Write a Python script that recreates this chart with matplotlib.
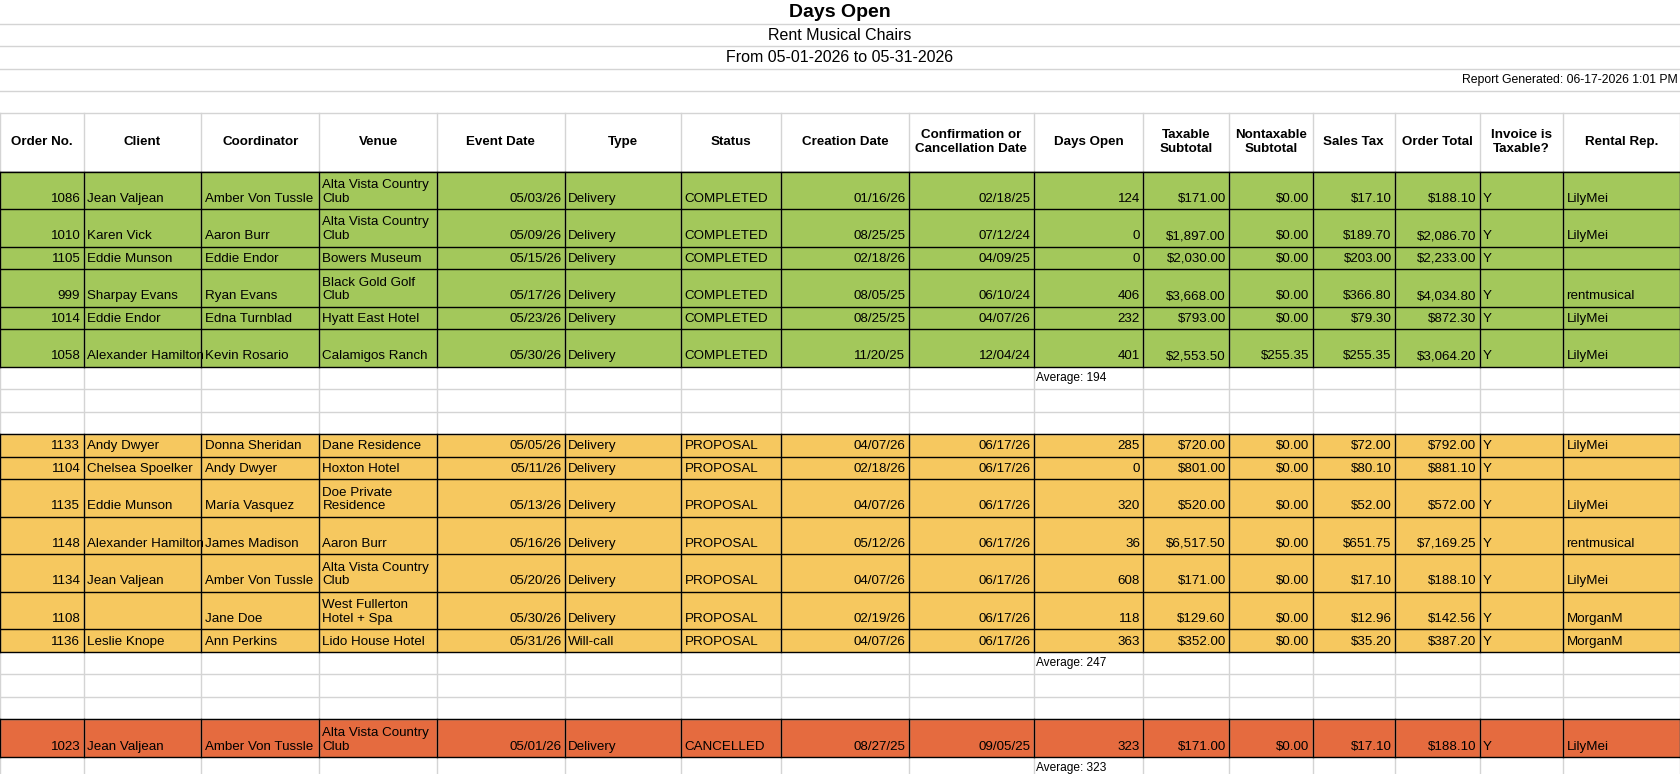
import matplotlib
matplotlib.use("Agg")
import matplotlib.pyplot as plt

W, H = 1568, 722
plt.rcParams['font.family'] = ['Liberation Sans', 'DejaVu Sans']

title = "Days Open"
subtitle1 = "Rent Musical Chairs"
subtitle2 = "From 05-01-2026 to 05-31-2026"
generated = "Report Generated: 06-17-2026 1:01 PM"

headers = ["Order No.", "Client", "Coordinator", "Venue", "Event Date", "Type", "Status",
           "Creation Date", "Confirmation or\nCancellation Date", "Days Open", "Taxable\nSubtotal",
           "Nontaxable\nSubtotal", "Sales Tax", "Order Total", "Invoice is\nTaxable?", "Rental Rep."]
aligns = ['r', 'l', 'l', 'l', 'r', 'l', 'l', 'r', 'r', 'r', 'r', 'r', 'r', 'r', 'l', 'l']
col_edges = [0, 78, 188, 298, 408, 527, 636, 729, 848, 965, 1067, 1147, 1225, 1302, 1381, 1459, 1568]

completed = [
    ["1086", "Jean Valjean", "Amber Von Tussle", "Alta Vista Country\nClub", "05/03/26", "Delivery", "COMPLETED", "01/16/26", "02/18/25", "124", "$171.00", "$0.00", "$17.10", "$188.10", "Y", "LilyMei"],
    ["1010", "Karen Vick", "Aaron Burr", "Alta Vista Country\nClub", "05/09/26", "Delivery", "COMPLETED", "08/25/25", "07/12/24", "0", "$1,897.00", "$0.00", "$189.70", "$2,086.70", "Y", "LilyMei"],
    ["1105", "Eddie Munson", "Eddie Endor", "Bowers Museum", "05/15/26", "Delivery", "COMPLETED", "02/18/26", "04/09/25", "0", "$2,030.00", "$0.00", "$203.00", "$2,233.00", "Y", ""],
    ["999", "Sharpay Evans", "Ryan Evans", "Black Gold Golf\nClub", "05/17/26", "Delivery", "COMPLETED", "08/05/25", "06/10/24", "406", "$3,668.00", "$0.00", "$366.80", "$4,034.80", "Y", "rentmusical"],
    ["1014", "Eddie Endor", "Edna Turnblad", "Hyatt East Hotel", "05/23/26", "Delivery", "COMPLETED", "08/25/25", "04/07/26", "232", "$793.00", "$0.00", "$79.30", "$872.30", "Y", "LilyMei"],
    ["1058", "Alexander Hamilton", "Kevin Rosario", "Calamigos Ranch", "05/30/26", "Delivery", "COMPLETED", "11/20/25", "12/04/24", "401", "$2,553.50", "$255.35", "$255.35", "$3,064.20", "Y", "LilyMei"],
]
completed_tall = [True, True, False, True, False, True]
proposal = [
    ["1133", "Andy Dwyer", "Donna Sheridan", "Dane Residence", "05/05/26", "Delivery", "PROPOSAL", "04/07/26", "06/17/26", "285", "$720.00", "$0.00", "$72.00", "$792.00", "Y", "LilyMei"],
    ["1104", "Chelsea Spoelker", "Andy Dwyer", "Hoxton Hotel", "05/11/26", "Delivery", "PROPOSAL", "02/18/26", "06/17/26", "0", "$801.00", "$0.00", "$80.10", "$881.10", "Y", ""],
    ["1135", "Eddie Munson", "María Vasquez", "Doe Private\nResidence", "05/13/26", "Delivery", "PROPOSAL", "04/07/26", "06/17/26", "320", "$520.00", "$0.00", "$52.00", "$572.00", "Y", "LilyMei"],
    ["1148", "Alexander Hamilton", "James Madison", "Aaron Burr", "05/16/26", "Delivery", "PROPOSAL", "05/12/26", "06/17/26", "36", "$6,517.50", "$0.00", "$651.75", "$7,169.25", "Y", "rentmusical"],
    ["1134", "Jean Valjean", "Amber Von Tussle", "Alta Vista Country\nClub", "05/20/26", "Delivery", "PROPOSAL", "04/07/26", "06/17/26", "608", "$171.00", "$0.00", "$17.10", "$188.10", "Y", "LilyMei"],
    ["1108", "", "Jane Doe", "West Fullerton\nHotel + Spa", "05/30/26", "Delivery", "PROPOSAL", "02/19/26", "06/17/26", "118", "$129.60", "$0.00", "$12.96", "$142.56", "Y", "MorganM"],
    ["1136", "Leslie Knope", "Ann Perkins", "Lido House Hotel", "05/31/26", "Will-call", "PROPOSAL", "04/07/26", "06/17/26", "363", "$352.00", "$0.00", "$35.20", "$387.20", "Y", "MorganM"],
]
proposal_tall = [False, False, True, True, True, True, False]
cancelled = [
    ["1023", "Jean Valjean", "Amber Von Tussle", "Alta Vista Country\nClub", "05/01/26", "Delivery", "CANCELLED", "08/27/25", "09/05/25", "323", "$171.00", "$0.00", "$17.10", "$188.10", "Y", "LilyMei"],
]
cancelled_tall = [True]
averages = ["Average: 194", "Average: 247", "Average: 323"]
group_colors = ["#a3c85b", "#f6c85f", "#e56b3f"]

SH, TH = 21, 35
fig = plt.figure(figsize=(16.8, 7.74), dpi=100)
ax = fig.add_axes([0, 0, 1, 1])
ax.set_xlim(0, W); ax.set_ylim(H, 0); ax.axis('off')
GRAY = "#d4d4d4"
fs = 9.6

# title rows
for yy in [22, 43, 64, 85, 105]:
    ax.plot([0, W], [yy, yy], color=GRAY, lw=1)
ax.text(W / 2, 12, title, ha='center', va='center', fontsize=14, fontweight='bold')
ax.text(W / 2, 33, subtitle1, ha='center', va='center', fontsize=11.5)
ax.text(W / 2, 54, subtitle2, ha='center', va='center', fontsize=11.5)
ax.text(W - 2, 75, generated, ha='right', va='center', fontsize=8.8)

# header
ht, hb = 105, 160
for x in col_edges:
    ax.plot([x, x], [ht, H], color=GRAY, lw=1)
ax.plot([0, W], [hb, hb], color="#b8b8b8", lw=1.2)
for i, h in enumerate(headers):
    cx = (col_edges[i] + col_edges[i + 1]) / 2
    ax.text(cx, (ht + hb) / 2, h, ha='center', va='center', fontsize=fs, fontweight='bold', linespacing=1.2)

def cell_text(i, txt, top, bot):
    if aligns[i] == 'r':
        x, ha = col_edges[i + 1] - 3, 'right'
    else:
        x, ha = col_edges[i] + 3, 'left'
    ax.text(x, bot - 4, txt, ha=ha, va='bottom', fontsize=fs, linespacing=1.2)

y = hb
groups = [(completed, completed_tall), (proposal, proposal_tall), (cancelled, cancelled_tall)]
for g, (rows, talls) in enumerate(groups):
    gtop = y
    for r, tall in zip(rows, talls):
        h = TH if tall else SH
        ax.add_patch(plt.Rectangle((0, y), W, h, color=group_colors[g], lw=0, zorder=0.5))
        for i, txt in enumerate(r):
            cell_text(i, txt, y, y + h)
        y += h
    for x in col_edges:
        ax.plot([x, x], [gtop, y], color='black', lw=1, zorder=3)
    yy = gtop
    ax.plot([0, W], [yy, yy], color='black', lw=1, zorder=3)
    for r, tall in zip(rows, talls):
        yy += TH if tall else SH
        ax.plot([0, W], [yy, yy], color='black', lw=1, zorder=3)
    # average row
    ax.text(col_edges[9] + 2, y + SH / 2, averages[g], ha='left', va='center', fontsize=8.6)
    y += SH
    ax.plot([0, W], [y, y], color=GRAY, lw=1, zorder=1)
    if g < 2:
        for _ in range(2):
            y += SH
            ax.plot([0, W], [y, y], color=GRAY, lw=1, zorder=1)

fig.savefig("out.png", dpi=100)
